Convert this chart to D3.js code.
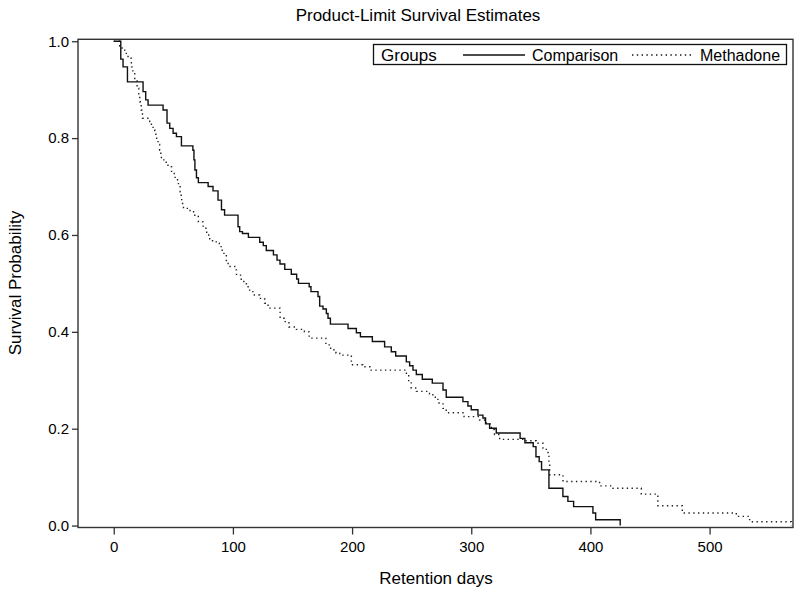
<!DOCTYPE html>
<html>
<head>
<meta charset="utf-8">
<script src="https://cdn.jsdelivr.net/npm/d3@7"></script>
<style>
  body { margin: 0; background: #fff; }
  text { font-family: Arial, "Liberation Sans", sans-serif; fill: #000; }
</style>
</head>
<body>
<div class="chart"></div>
<script>
var groups = ['Comparison', 'Methadone'];

var comparisonDays = [0, 5.9, 7.8, 11.5, 24.6, 26.8, 28.8, 41.4, 44.7, 47, 49.8, 52.6, 56.8, 66.4, 67.3,
  68.1, 69.4, 71, 79.2, 83.3, 87.5, 90.4, 93, 104.3, 105.7, 108, 113, 122.5, 125.5, 128, 134, 137,
  139.5, 143.5, 149, 153.5, 155, 164, 165.5, 171.4, 172.8, 175.6, 178.4, 179.8, 181.8, 196.6, 203.6,
  207, 217, 227.3, 232.9, 236.6, 245.5, 248.3, 251.1, 253.9, 258.9, 267.3, 276.3, 279, 293, 297.2,
  300, 305.6, 309.8, 312, 315.4, 321, 341, 345, 352, 354.3, 357, 359, 365.2, 376.9, 381.1, 385.9,
  402.1, 404.4, 425];
var comparisonSurvival = [1, 0.963, 0.947, 0.916, 0.896, 0.879, 0.868, 0.858, 0.831, 0.820, 0.810,
  0.803, 0.784, 0.775, 0.755, 0.734, 0.718, 0.708, 0.700, 0.691, 0.672, 0.652, 0.641, 0.617, 0.607,
  0.603, 0.595, 0.585, 0.578, 0.568, 0.559, 0.548, 0.540, 0.529, 0.519, 0.509, 0.500, 0.493, 0.483,
  0.473, 0.453, 0.447, 0.438, 0.428, 0.416, 0.407, 0.398, 0.390, 0.380, 0.369, 0.359, 0.350, 0.338,
  0.330, 0.321, 0.312, 0.302, 0.294, 0.280, 0.265, 0.256, 0.247, 0.239, 0.228, 0.222, 0.210, 0.201,
  0.191, 0.180, 0.171, 0.163, 0.142, 0.132, 0.115, 0.077, 0.060, 0.050, 0.039, 0.026, 0.012, 0];

var methadoneDays = [0, 5, 7, 9.2, 12, 14.8, 16, 17.6, 19.6, 21, 21.8, 23, 24.1, 30.2, 31.6, 33, 34.4,
  36, 37.2, 38.5, 39.5, 40, 43, 45.5, 48.5, 51.5, 54.3, 55.7, 56.6, 57, 58.5, 64, 68, 71, 75, 78, 80.5,
  86, 88.5, 91, 94.5, 96, 101.5, 103, 107, 111.3, 114, 118, 122.5, 126.6, 129.5, 139.6, 143, 147,
  153.3, 160, 164, 178, 182, 186.5, 189.6, 199.4, 209, 216, 245.6, 247.5, 249.6, 254, 265, 267.8, 272,
  276.3, 279, 294, 307, 312.7, 316.9, 319.5, 323.8, 344.8, 354.6, 360.2, 363, 365.2, 365.8, 377,
  407.7, 418.9, 442.7, 456.6, 477.1, 522.4, 533.6, 568.5];
var methadoneSurvival = [1, 0.99, 0.983, 0.975, 0.965, 0.947, 0.933, 0.920, 0.903, 0.889, 0.875,
  0.858, 0.841, 0.834, 0.826, 0.817, 0.808, 0.796, 0.787, 0.775, 0.765, 0.755, 0.750, 0.741, 0.727,
  0.714, 0.703, 0.689, 0.675, 0.665, 0.655, 0.648, 0.638, 0.627, 0.614, 0.600, 0.588, 0.583, 0.576,
  0.562, 0.545, 0.535, 0.528, 0.517, 0.504, 0.493, 0.483, 0.476, 0.469, 0.459, 0.449, 0.428, 0.421,
  0.410, 0.405, 0.400, 0.387, 0.373, 0.363, 0.356, 0.352, 0.332, 0.328, 0.321, 0.311, 0.297, 0.284,
  0.277, 0.272, 0.265, 0.253, 0.242, 0.233, 0.225, 0.218, 0.210, 0.198, 0.188, 0.178, 0.175, 0.170,
  0.160, 0.151, 0.129, 0.105, 0.091, 0.082, 0.077, 0.065, 0.041, 0.026, 0.019, 0.008, 0];

var xTicks = [0, 100, 200, 300, 400, 500];
var yTicks = [0, 0.2, 0.4, 0.6, 0.8, 1.0];

(function () {
  'use strict';

  var width = 800;
  var height = 594;
  var frame = { left: 78, right: 793, top: 39.3, bottom: 527.5 };

  var x = d3.scaleLinear().domain([-30, 570]).range([frame.left, frame.right]);
  var y = d3.scaleLinear().domain([-0.004, 1.004]).range([frame.bottom, frame.top]);

  var svg = d3.select('.chart')
      .append('svg')
      .attr('width', width)
      .attr('height', height);

  svg.append('text')
     .attr('x', 418)
     .attr('y', 21)
     .attr('text-anchor', 'middle')
     .style('font-size', '17px')
     .text('Product-Limit Survival Estimates');

  // axes
  var yAxis = svg.append('g')
     .attr('class', 'y axis')
     .attr('transform', 'translate(' + frame.left + ',0)')
     .call(d3.axisLeft(y).tickValues(yTicks).tickSize(6).tickPadding(3)
       .tickFormat(d3.format('.1f')));

  var xAxis = svg.append('g')
     .attr('class', 'x axis')
     .attr('transform', 'translate(0,' + frame.bottom + ')')
     .call(d3.axisBottom(x).tickValues(xTicks).tickSize(7).tickPadding(7)
       .tickFormat(d3.format('d')));

  svg.selectAll('.axis .domain').remove();
  svg.selectAll('.axis line').attr('stroke', '#333').attr('stroke-width', 1.3);
  svg.selectAll('.axis text')
     .style('font-size', '15px')
     .style('font-family', 'Arial, "Liberation Sans", sans-serif')
     .attr('fill', '#000');

  svg.append('text')
     .attr('transform', 'translate(21,283) rotate(-90)')
     .attr('text-anchor', 'middle')
     .style('font-size', '17px')
     .text('Survival Probability');

  svg.append('text')
     .attr('x', 436)
     .attr('y', 584)
     .attr('text-anchor', 'middle')
     .style('font-size', '17px')
     .text('Retention days');

  // curves
  var line = d3.line()
      .x(function(d) { return x(d[0]); })
      .y(function(d) { return y(d[1]); })
      .curve(d3.curveStepAfter);

  var comparison = d3.zip(comparisonDays, comparisonSurvival);
  var methadone = d3.zip(methadoneDays, methadoneSurvival);

  svg.append('path')
     .datum(methadone)
     .attr('fill', 'none')
     .attr('stroke', '#222')
     .attr('stroke-width', 1.4)
     .attr('stroke-dasharray', '1.4,3.4')
     .attr('d', line);

  svg.append('path')
     .datum(comparison)
     .attr('fill', 'none')
     .attr('stroke', '#111')
     .attr('stroke-width', 1.4)
     .attr('d', line);

  svg.append('rect')
     .attr('x', frame.left)
     .attr('y', frame.top)
     .attr('width', frame.right - frame.left)
     .attr('height', frame.bottom - frame.top)
     .attr('fill', 'none')
     .attr('stroke', '#333')
     .attr('stroke-width', 1.4);

  // legend
  var legend = svg.append('g').attr('class', 'legend');

  legend.append('rect')
     .attr('x', 373.5)
     .attr('y', 44.5)
     .attr('width', 413)
     .attr('height', 20)
     .attr('fill', '#fff')
     .attr('stroke', '#111')
     .attr('stroke-width', 1.3);

  legend.append('text')
     .attr('x', 381)
     .attr('y', 60.5)
     .style('font-size', '17px')
     .text('Groups');

  var items = [
    { name: groups[0], x1: 463, x2: 525, tx: 532, dash: null },
    { name: groups[1], x1: 632, x2: 691, tx: 700, dash: '1.4,3.4' }
  ];

  items.forEach(function(d) {
    legend.append('line')
       .attr('x1', d.x1)
       .attr('x2', d.x2)
       .attr('y1', 55)
       .attr('y2', 55)
       .attr('stroke', '#111')
       .attr('stroke-width', 1.3)
       .attr('stroke-dasharray', d.dash);

    legend.append('text')
       .attr('x', d.tx)
       .attr('y', 60.5)
       .style('font-size', '16px')
       .text(d.name);
  });
}());
</script>
</body>
</html>
